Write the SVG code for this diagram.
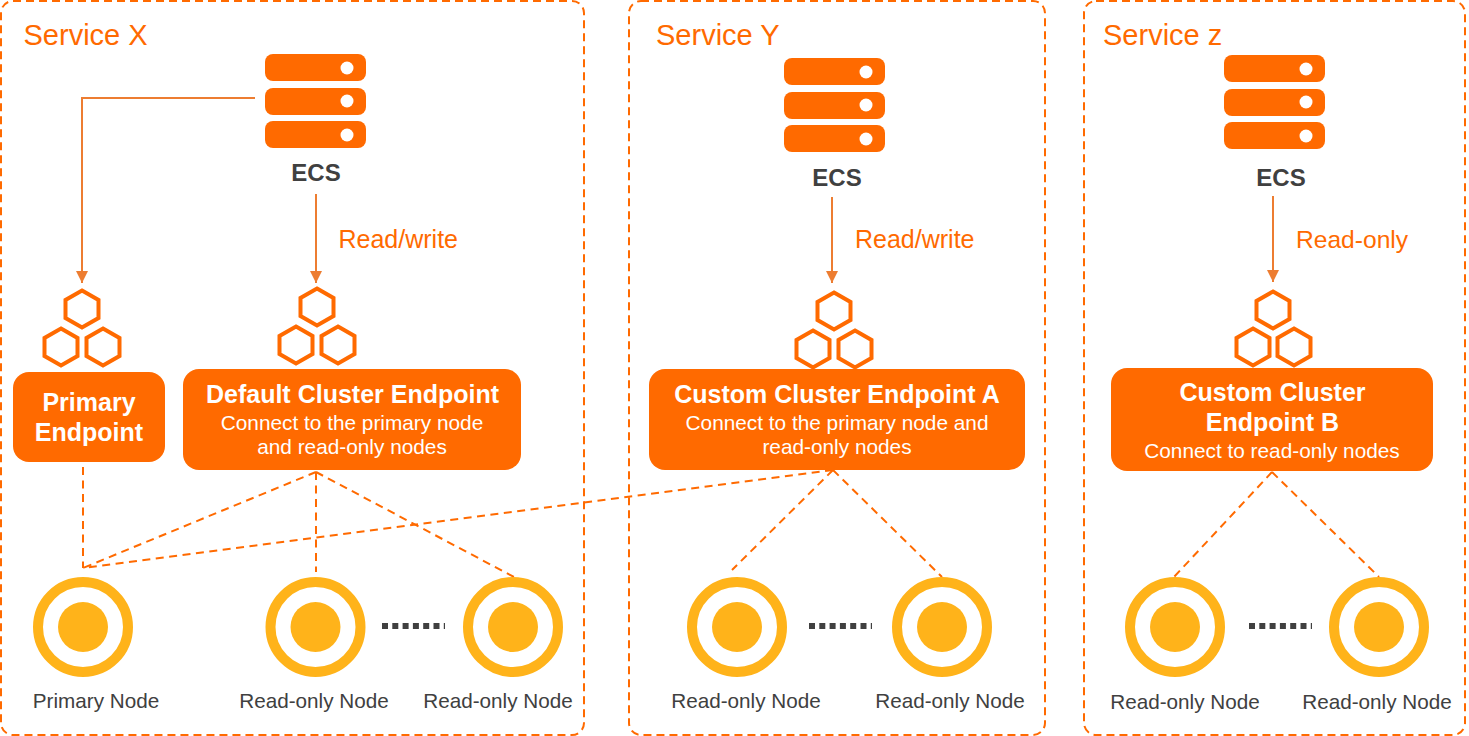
<svg xmlns="http://www.w3.org/2000/svg" xmlns:xlink="http://www.w3.org/1999/xlink" width="1469" height="736" viewBox="0 0 1469 736">
<style>
text{font-family:"Liberation Sans",Arial,sans-serif}
.svc{fill:#ff6a00;font-size:29px}
.lab{fill:#ff6a00;font-size:25px}
.ecs{fill:#404040;font-size:24px;font-weight:700;text-anchor:middle}
.nl{fill:#404040;font-size:20.7px;text-anchor:middle}
.t{fill:#fff;font-size:25px;font-weight:700;text-anchor:middle}
.s{fill:#fff;font-size:20.8px;text-anchor:middle}
.box{fill:none;stroke:#ff6a00;stroke-width:2;stroke-dasharray:8 5}
.card{fill:#ff6a00}
.hex{fill:none;stroke:#ff6a00;stroke-width:4}
.arrow{fill:none;stroke:#ed7d31;stroke-width:2;marker-end:url(#ah)}
.dash{fill:none;stroke:#ff6a00;stroke-width:2;stroke-dasharray:8 5.5}
.ring{fill:none;stroke:#ffb31a;stroke-width:10}
.core{fill:#ffb31a}
.dots{fill:none;stroke:#404040;stroke-width:6;stroke-dasharray:6 4.3}
.srv{fill:#ff6a00}
.led{fill:#fff}
</style>
<defs>
<marker id="ah" markerUnits="userSpaceOnUse" markerWidth="14" markerHeight="13" refX="12" refY="6" orient="auto"><path d="M0 0L12 6L0 12Z" fill="#ed7d31"/></marker>
<g id="server"><rect class="srv" width="101" height="27" rx="8"/><circle class="led" cx="82" cy="14" r="6.5"/><rect class="srv" y="34" width="101" height="27" rx="8"/><circle class="led" cx="82" cy="47" r="6.5"/><rect class="srv" y="67" width="101" height="27" rx="8"/><circle class="led" cx="82" cy="81" r="6.5"/></g>
<path id="hx" class="hex" d="M0 -18.5L16.5 -9V9L0 18.5L-16.5 9V-9Z"/>
<g id="node"><circle class="ring" r="45"/><circle class="core" r="25"/></g>
</defs>
<g id="service-x"><rect class="box" x="1" y="1" width="583" height="734" rx="12"/><text class="svc" x="23.5" y="45">Service X</text></g>
<g id="service-y"><rect class="box" x="629" y="1" width="416" height="734" rx="12"/><text class="svc" x="656" y="45">Service Y</text></g>
<g id="service-z"><rect class="box" x="1084" y="1" width="381" height="734" rx="12"/><text class="svc" x="1103" y="45">Service z</text></g>
<g id="connectors">
<path class="arrow" d="M255 98H82V283"/>
<path class="arrow" d="M316 194V283"/>
<path class="arrow" d="M832 197V283"/>
<path class="arrow" d="M1273 196V282"/>
<path class="dash" d="M83 467V568"/>
<path class="dash" d="M316 472L83 568"/>
<path class="dash" d="M316 472V572"/>
<path class="dash" d="M316 472L514 577"/>
<path class="dash" d="M833 470L83 568"/>
<path class="dash" d="M833 470L732 570"/>
<path class="dash" d="M833 470L942 577"/>
<path class="dash" d="M1272 472L1174 577"/>
<path class="dash" d="M1272 472L1379 577"/>
<path class="dots" d="M382 626H445"/>
<path class="dots" d="M809 626H872"/>
<path class="dots" d="M1249 626H1312"/>
</g>
<g id="ecs-x"><use href="#server" x="265" y="54"/><text class="ecs" x="316" y="181">ECS</text></g>
<g id="ecs-y"><use href="#server" x="784" y="58"/><text class="ecs" x="837" y="186">ECS</text></g>
<g id="ecs-z"><use href="#server" x="1224" y="55"/><text class="ecs" x="1281" y="186">ECS</text></g>
<text class="lab" x="338.5" y="248">Read/write</text>
<text class="lab" x="855" y="248">Read/write</text>
<text class="lab" x="1296" y="248" style="font-size:24.6px">Read-only</text>
<g id="primary-endpoint"><use href="#hx" x="82" y="309"/><use href="#hx" x="61" y="347"/><use href="#hx" x="103" y="347"/><rect class="card" x="13" y="372" width="152" height="90" rx="16"/><text class="t" x="89" y="411">Primary</text><text class="t" x="89" y="441">Endpoint</text></g>
<g id="default-endpoint"><use href="#hx" x="317" y="307"/><use href="#hx" x="296" y="345"/><use href="#hx" x="338" y="345"/><rect class="card" x="183" y="369" width="338" height="101" rx="16"/><text class="t" x="352.5" y="403">Default Cluster Endpoint</text><text class="s" x="352" y="429.5">Connect to the primary node</text><text class="s" x="352" y="454">and read-only nodes</text></g>
<g id="custom-a"><use href="#hx" x="834" y="311"/><use href="#hx" x="813" y="349"/><use href="#hx" x="855" y="349"/><rect class="card" x="649" y="369" width="376" height="101" rx="16"/><text class="t" x="837" y="403">Custom Cluster Endpoint A</text><text class="s" x="837" y="429.5">Connect to the primary node and</text><text class="s" x="837" y="454">read-only nodes</text></g>
<g id="custom-b"><use href="#hx" x="1273" y="310"/><use href="#hx" x="1253" y="347"/><use href="#hx" x="1294" y="347"/><rect class="card" x="1111" y="368" width="322" height="103" rx="16"/><text class="t" x="1272.5" y="401">Custom Cluster</text><text class="t" x="1272.5" y="431">Endpoint B</text><text class="s" x="1272" y="457.5">Connect to read-only nodes</text></g>
<g id="node-primary"><use href="#node" x="83" y="627"/><text class="nl" x="96" y="708">Primary Node</text></g>
<g id="node-x1"><use href="#node" x="315.500" y="627"/><text class="nl" x="314" y="708">Read-only Node</text></g>
<g id="node-x2"><use href="#node" x="513" y="627"/><text class="nl" x="498" y="708">Read-only Node</text></g>
<g id="node-y1"><use href="#node" x="737" y="627"/><text class="nl" x="746" y="708">Read-only Node</text></g>
<g id="node-y2"><use href="#node" x="942" y="627"/><text class="nl" x="950" y="708">Read-only Node</text></g>
<g id="node-z1"><use href="#node" x="1175" y="627"/><text class="nl" x="1185" y="709">Read-only Node</text></g>
<g id="node-z2"><use href="#node" x="1379" y="627"/><text class="nl" x="1377" y="709">Read-only Node</text></g>
</svg>
